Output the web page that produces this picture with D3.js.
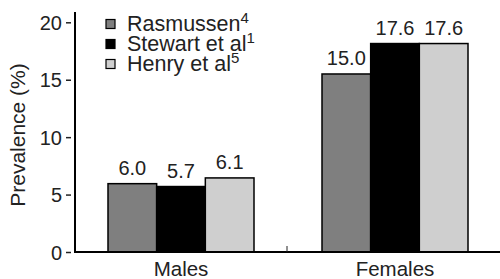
<!DOCTYPE html>
<html>
<head>
<meta charset="utf-8">
<script src="https://cdn.jsdelivr.net/npm/d3@7"></script>
<style>
  body { margin: 0; background: #fff; }
  text { font-family: "Liberation Sans", Arial, sans-serif; fill: #222; }
</style>
</head>
<body>
<div id="chart"></div>
<script>
// groups along the x axis
const groups = ['Males', 'Females'];
// series (studies) with their reference superscripts
const series = ['Rasmussen', 'Stewart et al', 'Henry et al'];
const refs = ['4', '1', '5'];
// printed prevalence values, per series, per group
const rasmussen = [6.0, 15.0];
const stewart = [5.7, 17.6];
const henry = [6.1, 17.6];
// bar heights as drawn in the figure (they differ a little from the printed values)
const rasmussenBar = [5.95, 15.5];
const stewartBar = [5.7, 18.15];
const henryBar = [6.45, 18.15];
const yTicks = [0, 5, 10, 15, 20];

const printed = [rasmussen, stewart, henry];
const drawn = [rasmussenBar, stewartBar, henryBar];
const fills = ['#7f7f7f', '#000000', '#cfcfcf'];

const W = 500, H = 279;
const svg = d3.select('#chart').append('svg')
  .attr('width', W).attr('height', H);

const axisX = 75;
const y = d3.scaleLinear().domain([0, 20]).range([252, 22.3]);
const x0 = d3.scaleBand().domain(groups).range([74, 502]);
const x1 = d3.scaleBand().domain(series).range([-73, 73]);

const rows = [];
groups.forEach((g, gi) => {
  series.forEach((s, si) => {
    rows.push({ group: g, key: s, si: si, value: printed[si][gi], h: drawn[si][gi] });
  });
});

// bars
svg.append('g').selectAll('rect')
  .data(rows)
  .enter()
  .append('rect')
  .attr('x', d => x0(d.group) + x0.bandwidth() / 2 + x1(d.key))
  .attr('y', d => y(d.h))
  .attr('width', x1.bandwidth())
  .attr('height', d => y(0) - y(d.h))
  .attr('fill', d => fills[d.si])
  .attr('stroke', '#000')
  .attr('stroke-width', 1.5);

// value labels
svg.append('g').selectAll('text')
  .data(rows)
  .enter()
  .append('text')
  .attr('x', d => x0(d.group) + x0.bandwidth() / 2 + x1(d.key) + x1.bandwidth() / 2)
  .attr('y', d => y(d.h) - 8.5)
  .attr('text-anchor', 'middle')
  .attr('font-size', 20)
  .text(d => d.value.toFixed(1));

// y axis: ticks sit a little away from the axis line
const yAxis = svg.append('g')
  .attr('transform', `translate(${axisX - 4}, 0)`)
  .call(d3.axisLeft(y).tickValues(yTicks).tickSize(5).tickPadding(4));
yAxis.select('.domain').remove();
yAxis.selectAll('.tick line').attr('stroke', '#222').attr('stroke-width', 1.5);
yAxis.selectAll('.tick text')
  .attr('font-size', 20)
  .attr('font-family', '"Liberation Sans", Arial, sans-serif')
  .attr('fill', '#222')
  .attr('dy', '0.36em');

svg.append('line')
  .attr('x1', axisX).attr('x2', axisX)
  .attr('y1', 12).attr('y2', y(0) + 1)
  .attr('stroke', '#000').attr('stroke-width', 2);

// x axis
svg.append('line')
  .attr('x1', axisX).attr('x2', W)
  .attr('y1', y(0)).attr('y2', y(0))
  .attr('stroke', '#000').attr('stroke-width', 2);

// separator tick between groups
svg.append('line')
  .attr('x1', x0('Females') - 1).attr('x2', x0('Females') - 1)
  .attr('y1', y(0)).attr('y2', y(0) - 6)
  .attr('stroke', '#222').attr('stroke-width', 1);

svg.append('g').selectAll('text')
  .data(groups)
  .enter()
  .append('text')
  .attr('x', d => x0(d) + x0.bandwidth() / 2)
  .attr('y', 275.5)
  .attr('text-anchor', 'middle')
  .attr('font-size', 20.5)
  .text(d => d);

// y axis title
svg.append('text')
  .attr('transform', 'translate(25, 135) rotate(-90)')
  .attr('text-anchor', 'middle')
  .attr('font-size', 21)
  .text('Prevalence (%)');

// legend
const legend = svg.append('g').selectAll('g')
  .data(series)
  .enter()
  .append('g')
  .attr('transform', (d, i) => `translate(106, ${24 + i * 20})`);

legend.append('rect')
  .attr('x', 0).attr('y', -4.5)
  .attr('width', 9).attr('height', 9)
  .attr('fill', (d, i) => fills[i])
  .attr('stroke', '#000')
  .attr('stroke-width', 1.2);

const lt = legend.append('text')
  .attr('x', 21)
  .attr('y', 7)
  .attr('font-size', 21.5);
lt.append('tspan').text(d => d);
lt.append('tspan')
  .attr('font-size', 15)
  .attr('dy', -8)
  .text((d, i) => refs[i]);
</script>
</body>
</html>
